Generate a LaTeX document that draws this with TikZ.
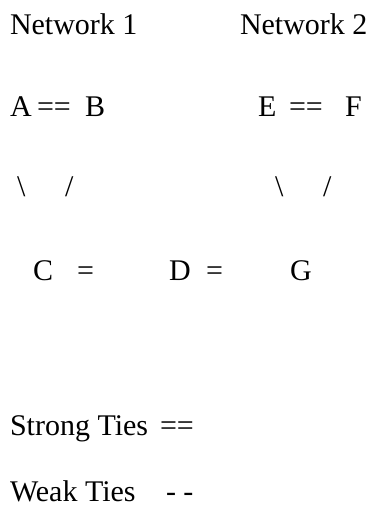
\documentclass[tikz,border=0pt]{standalone}
\usepackage{fontspec}
\setmainfont{Liberation Serif}
\begin{document}
\begin{tikzpicture}[x=1pt,y=-1pt,
  every node/.style={inner sep=0pt, outer sep=0pt, anchor=base west, font=\fontsize{30}{36}\selectfont}]
\useasboundingbox (0,0) rectangle (379,517);
% titles
\node (net1) at (10,34) {Network 1};
\node (net2) at (240,34) {Network 2};
% row 1
\node (A) at (10,116) {A};
\node (ab) at (37,116) {==};
\node (B) at (85,116) {B};
\node (E) at (258,116) {E};
\node (ef) at (289,116) {==};
\node (F) at (345,116) {F};
% slashes
\node (ac) at (17,196) {\textbackslash};
\node (bc) at (65,196) {/};
\node (eg) at (275,196) {\textbackslash};
\node (fg) at (323,196) {/};
% row 3
\node (C) at (33,280) {C};
\node (cd) at (77,280) {=};
\node (D) at (169,280) {D};
\node (dg) at (206,280) {=};
\node (G) at (290,280) {G};
% legend
\node (strong) at (10,435) {Strong Ties};
\node (strongsym) at (160,435) {==};
\node (weak) at (10,501) {Weak Ties};
\node (weaksym) at (166,501) {- -};
\end{tikzpicture}
\end{document}
